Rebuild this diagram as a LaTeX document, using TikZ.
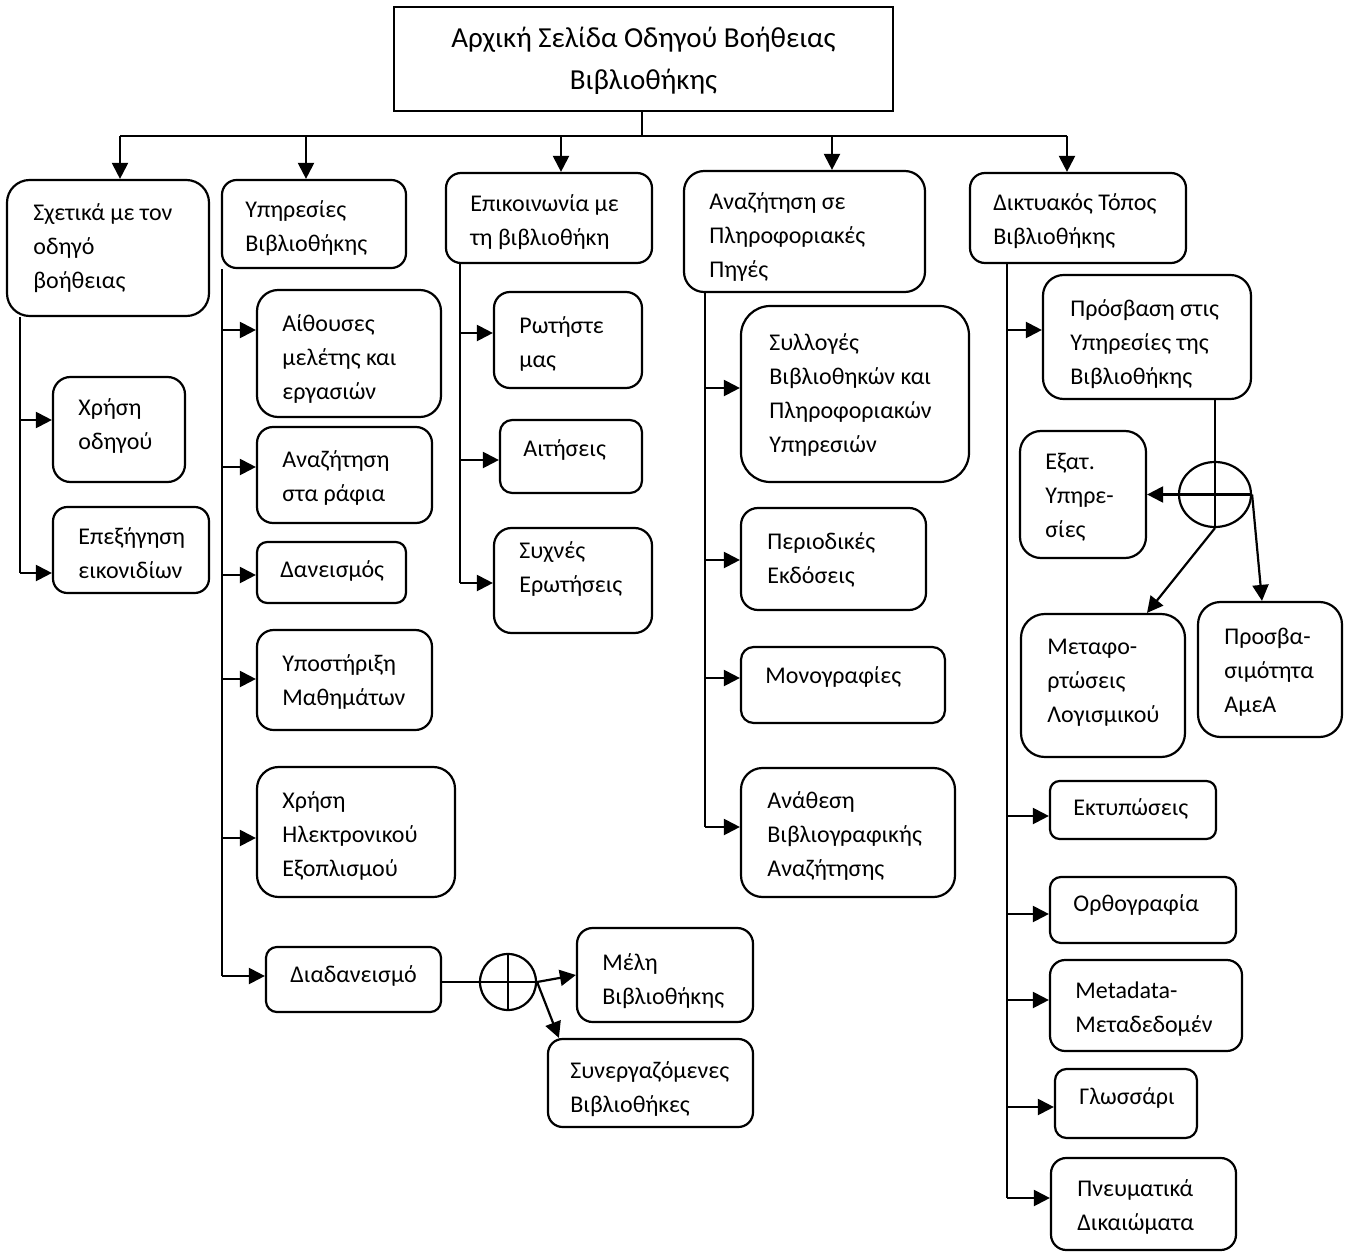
\documentclass[tikz,border=0pt]{standalone}
\usepackage{fontspec}
\setmainfont{Carlito}
\usetikzlibrary{arrows.meta,shapes.geometric}

\newcommand\bodysize{\fontsize{12pt}{17pt}\selectfont}
\newcommand\titlesize{\fontsize{14.5pt}{21pt}\selectfont}

\tikzset{
  line/.style={line width=1.1pt},
  arr/.style={line width=1.1pt, -{Triangle[length=8pt,width=8pt]}},
  box/.style={draw, line width=1.1pt, inner sep=0pt},
  txt/.style={align=left, inner sep=0pt, anchor=west, font=\bodysize,
              execute at begin node=\strut, execute at end node=\strut},
  txtm/.style={txt, yshift=-2.75pt},
}

% rounded box given by its left, top, right and bottom edges (in px units)
\newcommand\rbox[5]{%
  \pgfmathsetmacro\bxw{(#4-#2)/2}%
  \pgfmathsetmacro\bxh{(#5-#3)/2}%
  \pgfmathsetmacro\bxr{min(\bxw,\bxh)/6}%
  \node[box, rounded corners=\bxr pt, minimum width=\bxw pt, minimum height=\bxh pt]
    (#1) at ({(#2+#4)/2},{(#3+#5)/2}) {};%
}

\begin{document}
\begin{tikzpicture}[x=0.5pt,y=-0.5pt]
\useasboundingbox (0,0) rectangle (1351,1252);

% root
\node[box, minimum width=249.5pt, minimum height=52pt] (root) at (643.5,59) {};
\node[align=center, inner sep=0pt, font=\titlesize, yshift=-3pt,
      execute at begin node=\strut, execute at end node=\strut]
  (roottext) at (root.center) {Αρχική Σελίδα Οδηγού Βοήθειας\\Βιβλιοθήκης};

% first level
\rbox{b1}{7}{180}{209}{316}
\node[txtm] (t1) at (33,245.5) {Σχετικά με τον\\οδηγό\\βοήθειας};
\rbox{b2}{222}{180}{406}{268}
\node[txtm] (t2) at (245,226) {Υπηρεσίες\\Βιβλιοθήκης};
\rbox{b3}{446}{173}{652}{263}
\node[txtm] (t3) at (470,220) {Επικοινωνία με\\τη βιβλιοθήκη};
\rbox{b4}{684}{171}{925}{292}
\node[txtm] (t4) at (709,235) {Αναζήτηση σε\\Πληροφοριακές\\Πηγές};
\rbox{b5}{970}{173}{1186}{263}
\node[txtm] (t5) at (993,219) {Δικτυακός Τόπος\\Βιβλιοθήκης};

\coordinate (hub) at (642,136);
\coordinate (d1) at (120,136);
\coordinate (d2) at (306,136);
\coordinate (d3) at (561,136);
\coordinate (d4) at (832,136);
\coordinate (d5) at (1067,136);
\draw[line] (root.south -| hub) -- (hub);
\draw[line] (d1) -- (d5);
\foreach \i in {1,...,5} \draw[arr] (d\i) -- (d\i |- b\i.north);

% guide
\rbox{c11}{53}{377}{185}{482}
\node[txtm] (t11) at (78,424) {Χρήση\\οδηγού};
\rbox{c12}{53}{507}{209}{593}
\node[txtm] (t12) at (78,553) {Επεξήγηση\\εικονιδίων};
\coordinate (r11) at (20,420);
\coordinate (r12) at (20,573);
\draw[line] (r11 |- b1.south) -- (r12);
\draw[arr] (r11) -- (r11 -| c11.west);
\draw[arr] (r12) -- (r12 -| c12.west);

% library services
\rbox{c21}{257}{290}{441}{417}
\node[txtm] (t21) at (282,356.5) {Αίθουσες\\μελέτης και\\εργασιών};
\rbox{c22}{257}{427}{432}{523}
\node[txtm] (t22) at (282,475.5) {Αναζήτηση\\στα ράφια};
\rbox{c23}{257}{542}{406}{603}
\node[txt] (t23) at (280,571) {Δανεισμός};
\rbox{c24}{257}{630}{432}{730}
\node[txtm] (t24) at (282,679.5) {Υποστήριξη\\Μαθημάτων};
\rbox{c25}{257}{767}{455}{897}
\node[txtm] (t25) at (282,834) {Χρήση\\Ηλεκτρονικού\\Εξοπλισμού};
\rbox{c26}{266}{947}{441}{1012}
\node[txt] (t26) at (290,976) {Διαδανεισμό};
\coordinate (r21) at (222,330);
\coordinate (r22) at (222,467);
\coordinate (r23) at (222,575);
\coordinate (r24) at (222,679);
\coordinate (r25) at (222,838);
\coordinate (r26) at (222,976);
\draw[line] (r21 |- b2.south) -- (r26);
\foreach \i in {1,...,6} \draw[arr] (r2\i) -- (r2\i -| c2\i.west);

% interlibrary loan split
\node[circle, draw, line width=1.1pt, minimum size=28pt, inner sep=0pt] (x1) at (508,982) {};
\draw[line] (x1.north) -- (x1.south) (x1.west) -- (x1.east);
\draw[line] (x1.west -| c26.east) -- (x1.west);
\rbox{m1}{577}{928}{753}{1022}
\node[txtm] (tm1) at (602,979) {Μέλη\\Βιβλιοθήκης};
\rbox{m2}{548}{1039}{753}{1127}
\node[txtm] (tm2) at (570,1086.5) {Συνεργαζόμενες\\Βιβλιοθήκες};
\draw[arr] (x1.east) -- (m1.west);
\draw[arr] (x1.east) -- ([xshift=6pt]m2.north west);

% contact
\rbox{c31}{494}{292}{642}{388}
\node[txtm] (t31) at (519,341.5) {Ρωτήστε\\μας};
\rbox{c32}{500}{420}{642}{493}
\node[txt] (t32) at (523,450) {Αιτήσεις};
\rbox{c33}{494}{528}{652}{633}
\node[txtm] (t33) at (519,567) {Συχνές\\Ερωτήσεις};
\coordinate (r31) at (460,333);
\coordinate (r32) at (460,460);
\coordinate (r33) at (460,583);
\draw[line] (r31 |- b3.south) -- (r33);
\foreach \i in {1,2,3} \draw[arr] (r3\i) -- (r3\i -| c3\i.west);

% information sources
\rbox{c41}{741}{306}{969}{482}
\node[txtm] (t41) at (769,393) {Συλλογές\\Βιβλιοθηκών και\\Πληροφοριακών\\Υπηρεσιών};
\rbox{c42}{741}{508}{926}{610}
\node[txtm] (t42) at (767,557.5) {Περιοδικές\\Εκδόσεις};
\rbox{c43}{741}{647}{945}{723}
\node[txt] (t43) at (765,677) {Μονογραφίες};
\rbox{c44}{741}{768}{955}{897}
\node[txtm] (t44) at (767,833.5) {Ανάθεση\\Βιβλιογραφικής\\Αναζήτησης};
\coordinate (r41) at (705,388);
\coordinate (r42) at (705,560);
\coordinate (r43) at (705,678);
\coordinate (r44) at (705,827);
\draw[line] (r41 |- b4.south) -- (r44);
\foreach \i in {1,...,4} \draw[arr] (r4\i) -- (r4\i -| c4\i.west);

% web site
\rbox{c51}{1043}{275}{1251}{399}
\node[txtm] (t51) at (1070,341.5) {Πρόσβαση στις\\Υπηρεσίες της\\Βιβλιοθήκης};
\rbox{c54}{1050}{781}{1216}{839}
\node[txt] (t54) at (1073,809) {Εκτυπώσεις};
\rbox{c55}{1050}{877}{1236}{943}
\node[txt] (t55) at (1073,905) {Ορθογραφία};
\rbox{c56}{1050}{960}{1242}{1051}
\node[txtm] (t56) at (1075,1006.5) {Metadata-\\Μεταδεδομέν};
\rbox{c57}{1055}{1069}{1197}{1138}
\node[txt] (t57) at (1079,1098) {Γλωσσάρι};
\rbox{c58}{1051}{1158}{1236}{1250}
\node[txtm] (t58) at (1077,1205) {Πνευματικά\\Δικαιώματα};
\coordinate (r51) at (1007,330);
\coordinate (r54) at (1007,816);
\coordinate (r55) at (1007,914);
\coordinate (r56) at (1007,1000);
\coordinate (r57) at (1007,1107);
\coordinate (r58) at (1007,1198);
\draw[line] (r51 |- b5.south) -- (r58);
\foreach \i in {1,4,5,6,7,8} \draw[arr] (r5\i) -- (r5\i -| c5\i.west);

% service access split
\node[ellipse, draw, line width=1.1pt, minimum width=36pt, minimum height=32.5pt, inner sep=0pt]
  (x2) at (1215,494.5) {};
\draw[line] (c51.south -| x2.north) -- (x2.south);
\draw[line] (x2.west) -- (x2.east);
\rbox{e1}{1020}{431}{1146}{558}
\node[txtm] (te1) at (1045,495) {Εξατ.\\Υπηρε-\\σίες};
\rbox{c52}{1021}{614}{1185}{757}
\node[txtm] (t52) at (1047,680) {Μεταφο-\\ρτώσεις\\Λογισμικού};
\rbox{c53}{1198}{602}{1342}{737}
\node[txtm] (t53) at (1224,669.5) {Προσβα-\\σιμότητα\\ΑμεΑ};
\draw[arr] (x2.west) -- (x2.west -| e1.east);
\draw[arr] (x2.south) -- ([xshift=22pt]c52.north);
\draw[arr] (x2.east) -- ([xshift=-4pt]c53.north);
\end{tikzpicture}
\end{document}
